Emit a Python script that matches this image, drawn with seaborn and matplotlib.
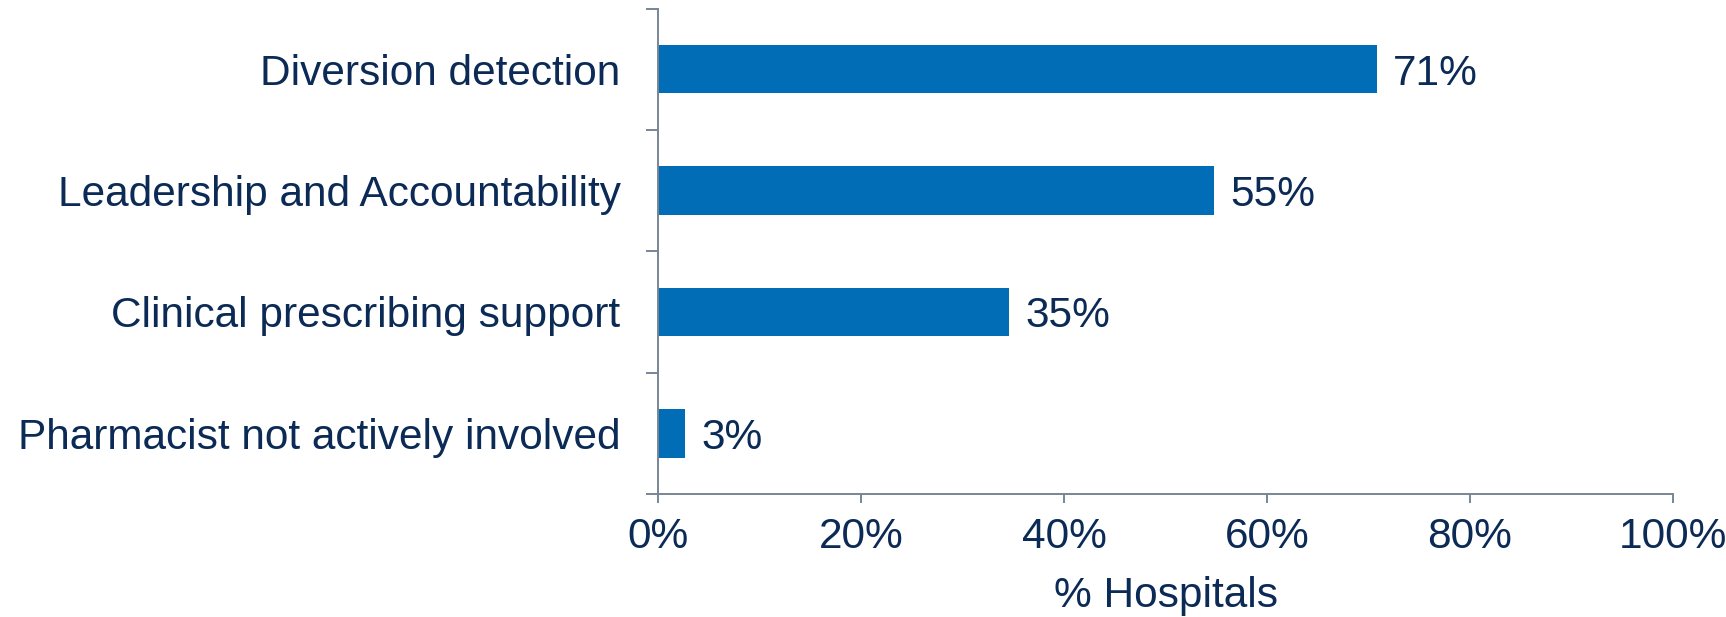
import matplotlib
matplotlib.use("Agg")
import matplotlib.pyplot as plt
import seaborn as sns
import pandas as pd

categories = ["Diversion detection", "Leadership and Accountability",
              "Clinical prescribing support", "Pharmacist not actively involved"]
values = [70.8, 54.8, 34.6, 2.7]
xticks = [0, 20, 40, 60, 80, 100]

sns.set_theme(style="white")
plt.rcParams['font.family'] = ['Liberation Sans', 'DejaVu Sans']

TEXT = "#0B2A55"
SPINE = "#7A8595"
BAR = "#006DB6"
FS = 30.5

df = pd.DataFrame({"cat": categories, "val": values})

fig = plt.figure(figsize=(17.26, 6.17), dpi=100)
ax = fig.add_axes([658/1726, 1-494/617, (1673-658)/1726, (494-8.5)/617])
sns.barplot(data=df, y="cat", x="val", orient="h", color=BAR, width=0.4,
            saturation=1, ax=ax, edgecolor="none")

ax.set_xlim(0, 100)
ax.set_ylim(3.5, -0.5)
ax.set_xticks(xticks)
ax.set_xticklabels([f"{t}%" for t in xticks])
ax.set_yticks(range(len(categories)))
ax.set_yticklabels(categories)
ax.set_yticks([i - 0.5 for i in range(len(categories) + 1)], minor=True)

ax.tick_params(axis="y", which="major", length=0, pad=27, labelsize=FS, labelcolor=TEXT)
ax.tick_params(axis="y", which="minor", length=8.6, width=1.4, color=SPINE,
               direction="out", left=True)
ax.tick_params(axis="x", which="major", length=6.5, width=1.4, color=SPINE,
               direction="out", pad=10, labelsize=FS, labelcolor=TEXT, bottom=True)

for s in ["top", "right"]:
    ax.spines[s].set_visible(False)
for s in ["left", "bottom"]:
    ax.spines[s].set_color(SPINE)
    ax.spines[s].set_linewidth(1.4)

ax.set_ylabel("")
ax.set_xlabel("% Hospitals", fontsize=FS, color=TEXT, labelpad=14)

for i, v in enumerate(values):
    ax.text(v + 1.6, i, f"{v:.0f}%", va="center_baseline", ha="left", fontsize=FS, color=TEXT)

fig.savefig("out.png", dpi=100)
